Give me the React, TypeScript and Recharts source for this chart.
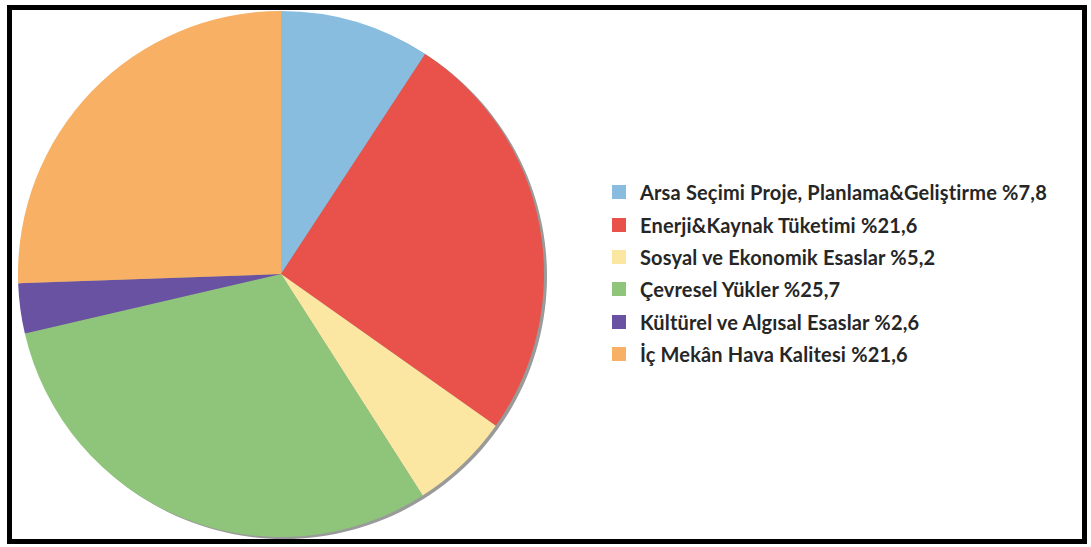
import React from "react";
import { PieChart, Pie, Cell } from "recharts";

const categories = [
  "Arsa Seçimi Proje, Planlama&Geliştirme",
  "Enerji&Kaynak Tüketimi",
  "Sosyal ve Ekonomik Esaslar",
  "Çevresel Yükler",
  "Kültürel ve Algısal Esaslar",
  "İç Mekân Hava Kalitesi",
];
const values = [7.8, 21.6, 5.2, 25.7, 2.6, 21.6];
const colors = ["#88BDE0", "#E8524A", "#FCE7A2", "#8EC57B", "#6A52A2", "#F7B064"];

const data = categories.map((name, i) => ({ name, value: values[i] }));
const shadowData = [{ name: "shadow", value: 1 }];

const fmt = (v: number) => "%" + String(v).replace(".", ",");

export default function App() {
  return (
    <div
      style={{
        position: "absolute",
        left: 0,
        top: 0,
        width: 1091,
        height: 547,
        background: "#ffffff",
        overflow: "hidden",
      }}
    >
      <div
        style={{
          position: "absolute",
          left: 7,
          top: 5,
          width: 1070,
          height: 529,
          border: "5px solid #000",
          boxSizing: "content-box",
        }}
      />
      <div style={{ position: "absolute", left: 0, top: 0 }}>
        <PieChart width={1091} height={547} margin={{ top: 0, right: 0, bottom: 0, left: 0 }}>
          <Pie
            data={shadowData}
            dataKey="value"
            cx={284}
            cy={276}
            outerRadius={263}
            startAngle={90}
            endAngle={-270}
            stroke="none"
            fill="#9a9a9a"
            isAnimationActive={false}
            legendType="none"
          />
          <Pie
            data={data}
            dataKey="value"
            nameKey="name"
            cx={281}
            cy={274}
            outerRadius={263}
            startAngle={90}
            endAngle={-270}
            stroke="none"
            isAnimationActive={false}
          >
            {data.map((d, i) => (
              <Cell key={i} fill={colors[i]} />
            ))}
          </Pie>
        </PieChart>
      </div>
      <div
        style={{
          position: "absolute",
          left: 612,
          top: 176,
          fontFamily: "Lato, 'Open Sans', sans-serif",
        }}
      >
        {data.map((d, i) => (
          <div
            key={i}
            style={{
              display: "flex",
              alignItems: "center",
              height: 32.4,
              fontSize: 20,
              fontWeight: 700,
              letterSpacing: 0.16,
              color: "#262626",
              whiteSpace: "nowrap",
            }}
          >
            <span
              style={{
                display: "inline-block",
                width: 14,
                height: 14,
                background: colors[i],
                marginRight: 14,
                flexShrink: 0,
              }}
            />
            {d.name} {fmt(d.value)}
          </div>
        ))}
      </div>
    </div>
  );
}
